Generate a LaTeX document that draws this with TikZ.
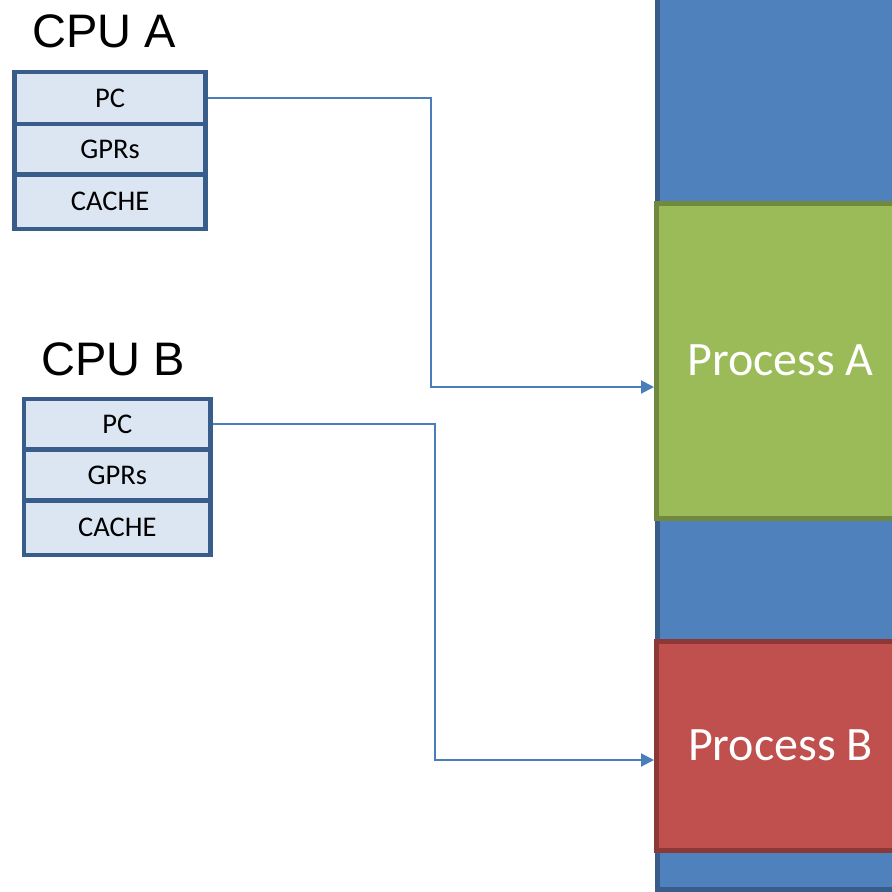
\documentclass[tikz,border=0pt]{standalone}
\usepackage{fontspec}
\setmainfont{Carlito}
\newfontfamily\arialf{Liberation Sans}
\usetikzlibrary{arrows.meta}
\definecolor{memfill}{HTML}{4F81BD}
\definecolor{memline}{HTML}{385D8A}
\definecolor{gfill}{HTML}{9BBB59}
\definecolor{gline}{HTML}{71893F}
\definecolor{rfill}{HTML}{C0504D}
\definecolor{rline}{HTML}{8C3836}
\definecolor{regfill}{HTML}{DCE6F2}
\definecolor{connc}{HTML}{4A7EBB}
\tikzset{
  regbox/.style={draw=memline, fill=regfill, line width=4.5pt, inner sep=0pt,
    font=\fontsize{28.5}{30}\selectfont, text=black},
  cpulabel/.style={inner sep=0pt, font=\arialf\fontsize{47}{50}\selectfont, text=black},
  procbox/.style={line width=5pt, inner sep=0pt, minimum width=248pt, text=white,
    font=\fontsize{48}{50}\selectfont},
  conn/.style={draw=connc, line width=2pt, -{Triangle[length=13pt,width=13pt]}},
}
\begin{document}
\begin{tikzpicture}[x=1pt,y=-1pt]
\clip (0,0) rectangle (892,892);
\fill[white] (0,0) rectangle (892,892);
% memory column
\node[draw=memline, fill=memfill, line width=5pt, minimum width=248pt, minimum height=909pt] (mem) at (781,434.5) {};
\node[procbox, draw=gline, fill=gfill, minimum height=315pt] (procA) at (780.5,360.5) {Process A};
\node[procbox, draw=rline, fill=rfill, minimum height=209pt] (procB) at (780.5,745.5) {Process B};
% CPU A
\node[cpulabel] (cpuA) at (104,31) {CPU A};
\node[regbox, minimum width=191pt, minimum height=52pt] (pcA) at (110,98) {PC};
\node[regbox, minimum width=191pt, minimum height=50.5pt] (gprA) at (110,149.25) {GPRs};
\node[regbox, minimum width=191pt, minimum height=54.5pt] (cacheA) at (110,201.75) {CACHE};
% CPU B
\node[cpulabel] (cpuB) at (113,359) {CPU B};
\node[regbox, minimum width=186.5pt, minimum height=50.5pt] (pcB) at (117.25,424.25) {PC};
\node[regbox, minimum width=186.5pt, minimum height=51pt] (gprB) at (117.25,475) {GPRs};
\node[regbox, minimum width=186.5pt, minimum height=54.5pt] (cacheB) at (117.25,527.75) {CACHE};
% connectors
\draw[conn] (pcA.east) -| (431,387) -- (procA.west |- 0,387);
\draw[conn] (pcB.east) -| (435,760) -- (procB.west |- 0,760);
\end{tikzpicture}
\end{document}
